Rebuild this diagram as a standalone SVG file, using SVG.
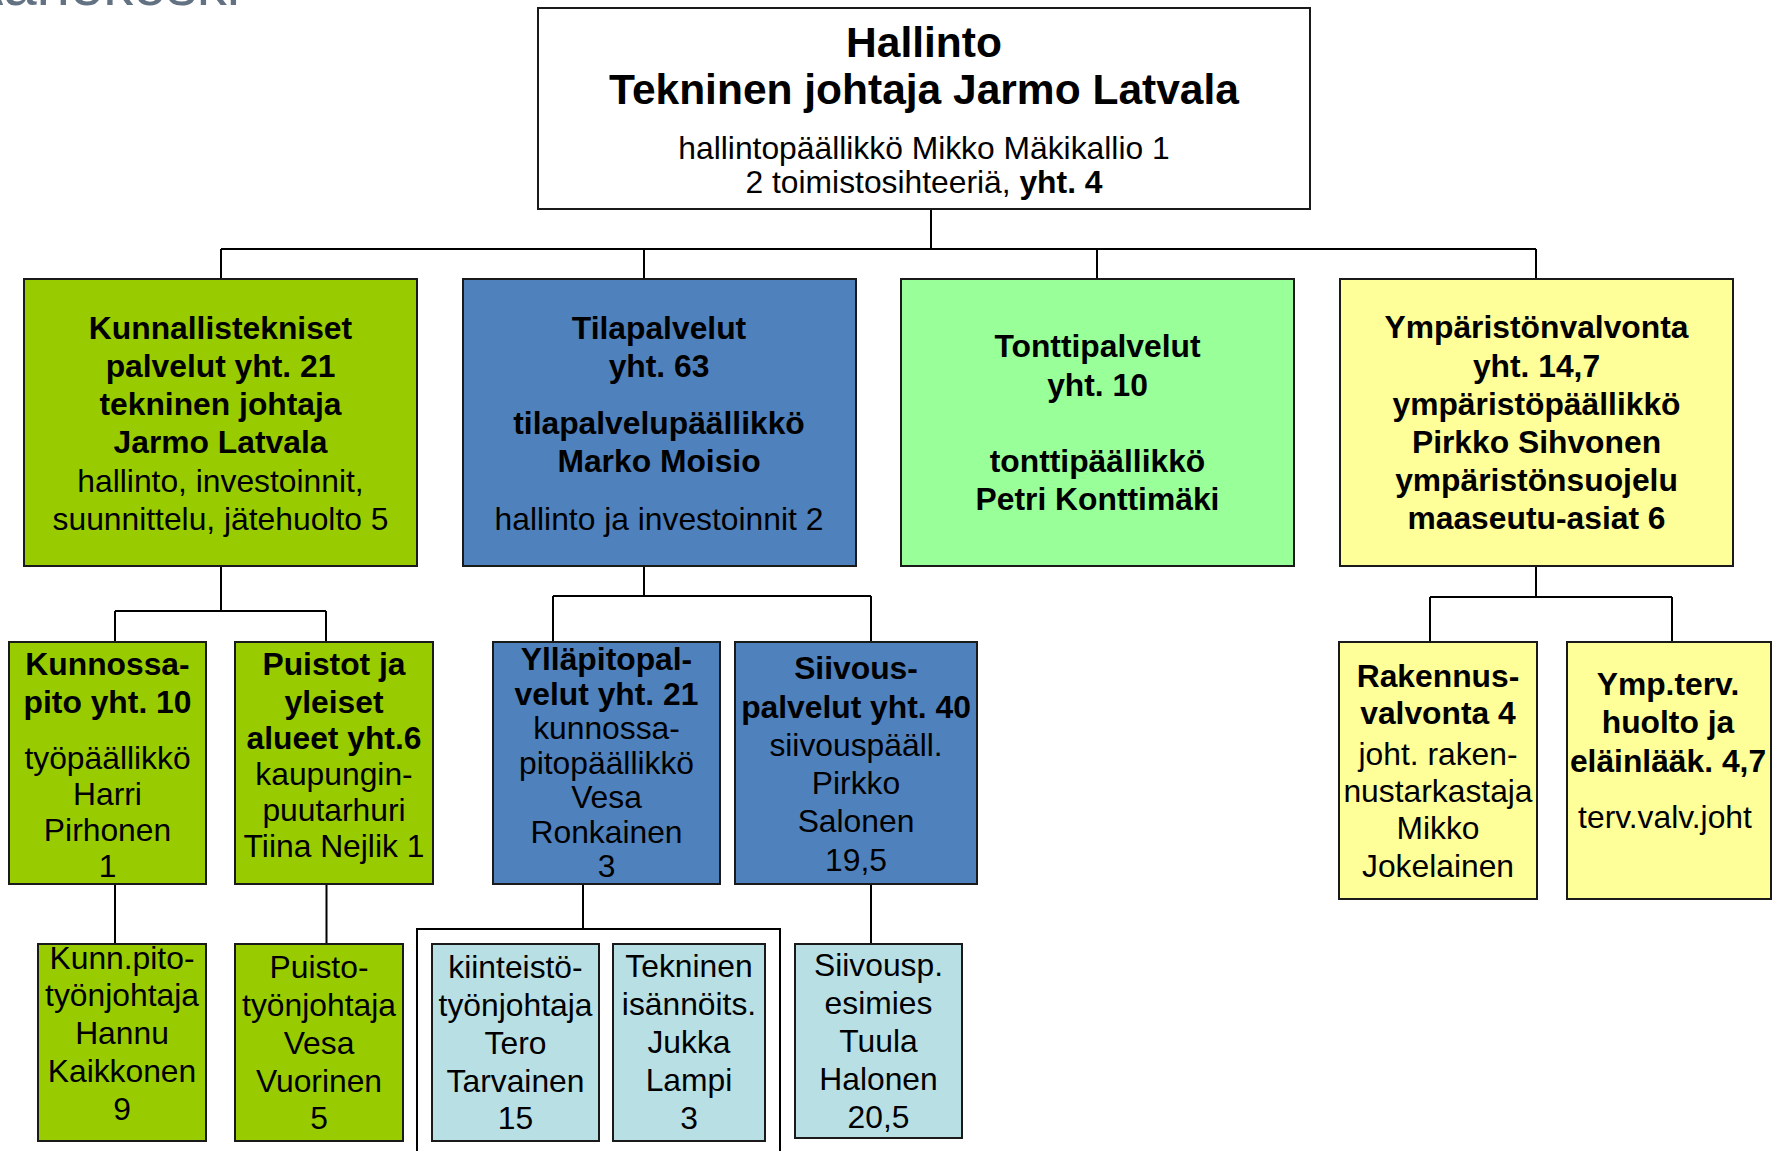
<svg xmlns="http://www.w3.org/2000/svg" width="1783" height="1151" viewBox="0 0 1783 1151">
<style>
text{font-family:"Liberation Sans",Arial,sans-serif;font-size:31.8px;fill:#000;text-anchor:middle}
.b{font-weight:bold}
.t{font-size:42.5px;font-weight:bold}
.box{stroke:#1a1a1a;stroke-width:2}
.w{fill:#fff}
.g{fill:#99CC00}
.bl{fill:#4F81BD}
.lg{fill:#99FF99}
.y{fill:#FFFF99}
.c{fill:#B8DFE4}
.conn{fill:none;stroke:#000;stroke-width:2}
.logo{font-size:60px;fill:#627282;text-anchor:end}
</style>
<rect width="1783" height="1151" fill="#fff"/>
<text class="logo" x="240" y="5">Äänekoski</text>

<g id="connectors" class="conn">
<path d="M931 209V249M221 249H1536M221 249V279M644 249V279M1097 249V279M1536 249V279"/>
<path d="M221 566V611M115 611H326M115 611V642M326 611V642"/>
<path d="M644 566V596M553 596H871M553 596V642M871 596V642"/>
<path d="M1536 566V597M1430 597H1672M1430 597V642M1672 597V642"/>
<path d="M115 884V944M326.5 884V944M583 884V929M871 884V944"/>
<path d="M417 1160V929H780V1160"/>
</g>

<g id="hallinto">
<rect class="box w" x="538" y="8" width="772" height="201"/>
<text class="t" x="924" y="57">Hallinto</text>
<text class="t" x="924" y="104">Tekninen johtaja Jarmo Latvala</text>
<text x="924" y="159">hallintopäällikkö Mikko Mäkikallio 1</text>
<text x="924" y="193">2 toimistosihteeriä, <tspan class="b">yht. 4</tspan></text>
</g>

<g id="kunnallistekniset">
<rect class="box g" x="24" y="279" width="393" height="287"/>
<text class="b" x="220.5" y="339">Kunnallistekniset</text>
<text class="b" x="220.5" y="377">palvelut yht. 21</text>
<text class="b" x="220.5" y="415">tekninen johtaja</text>
<text class="b" x="220.5" y="453">Jarmo Latvala</text>
<text x="220.5" y="492">hallinto, investoinnit,</text>
<text x="220.5" y="530">suunnittelu, jätehuolto 5</text>
</g>

<g id="tilapalvelut">
<rect class="box bl" x="463" y="279" width="393" height="287"/>
<text class="b" x="659" y="339">Tilapalvelut</text>
<text class="b" x="659" y="377">yht. 63</text>
<text class="b" x="659" y="434">tilapalvelupäällikkö</text>
<text class="b" x="659" y="472">Marko Moisio</text>
<text x="659" y="530">hallinto ja investoinnit 2</text>
</g>

<g id="tonttipalvelut">
<rect class="box lg" x="901" y="279" width="393" height="287"/>
<text class="b" x="1097.5" y="357">Tonttipalvelut</text>
<text class="b" x="1097.5" y="396">yht. 10</text>
<text class="b" x="1097.5" y="472">tonttipäällikkö</text>
<text class="b" x="1097.5" y="510">Petri Konttimäki</text>
</g>

<g id="ymparistonvalvonta">
<rect class="box y" x="1340" y="279" width="393" height="287"/>
<text class="b" x="1536.5" y="338">Ympäristönvalvonta</text>
<text class="b" x="1536.5" y="377">yht. 14,7</text>
<text class="b" x="1536.5" y="415">ympäristöpäällikkö</text>
<text class="b" x="1536.5" y="453">Pirkko Sihvonen</text>
<text class="b" x="1536.5" y="491">ympäristönsuojelu</text>
<text class="b" x="1536.5" y="529">maaseutu-asiat 6</text>
</g>

<g id="kunnossapito">
<rect class="box g" x="9" y="642" width="197" height="242"/>
<text class="b" x="107.5" y="675">Kunnossa-</text>
<text class="b" x="107.5" y="713">pito yht. 10</text>
<text x="107.5" y="769">työpäällikkö</text>
<text x="107.5" y="805">Harri</text>
<text x="107.5" y="841">Pirhonen</text>
<text x="107.5" y="877">1</text>
</g>

<g id="puistot">
<rect class="box g" x="235" y="642" width="198" height="242"/>
<text class="b" x="334" y="675">Puistot ja</text>
<text class="b" x="334" y="713">yleiset</text>
<text class="b" x="334" y="749">alueet yht.6</text>
<text x="334" y="785">kaupungin-</text>
<text x="334" y="821">puutarhuri</text>
<text x="334" y="857">Tiina Nejlik 1</text>
</g>

<g id="yllapito">
<rect class="box bl" x="493" y="642" width="227" height="242"/>
<text class="b" x="606.5" y="670">Ylläpitopal-</text>
<text class="b" x="606.5" y="705">velut yht. 21</text>
<text x="606.5" y="739">kunnossa-</text>
<text x="606.5" y="774">pitopäällikkö</text>
<text x="606.5" y="808">Vesa</text>
<text x="606.5" y="843">Ronkainen</text>
<text x="606.5" y="877">3</text>
</g>

<g id="siivous">
<rect class="box bl" x="735" y="642" width="242" height="242"/>
<text class="b" x="856" y="679">Siivous-</text>
<text class="b" x="856" y="718">palvelut yht. 40</text>
<text x="856" y="756">siivouspääll.</text>
<text x="856" y="794">Pirkko</text>
<text x="856" y="832">Salonen</text>
<text x="856" y="871">19,5</text>
</g>

<g id="rakennusvalvonta">
<rect class="box y" x="1339" y="642" width="198" height="257"/>
<text class="b" x="1438" y="687">Rakennus-</text>
<text class="b" x="1438" y="724">valvonta 4</text>
<text x="1438" y="765">joht. raken-</text>
<text x="1438" y="802">nustarkastaja</text>
<text x="1438" y="839">Mikko</text>
<text x="1438" y="877">Jokelainen</text>
</g>

<g id="ymptervhuolto">
<rect class="box y" x="1567" y="642" width="204" height="257"/>
<text class="b" x="1668" y="695">Ymp.terv.</text>
<text class="b" x="1668" y="733">huolto ja</text>
<text class="b" x="1668" y="772">eläinlääk. 4,7</text>
<text x="1665" y="828">terv.valv.joht</text>
</g>

<g id="kunnpito-tj">
<rect class="box g" x="38" y="944" width="168" height="197"/>
<text x="122" y="969">Kunn.pito-</text>
<text x="122" y="1006">työnjohtaja</text>
<text x="122" y="1044">Hannu</text>
<text x="122" y="1082">Kaikkonen</text>
<text x="122" y="1120">9</text>
</g>

<g id="puisto-tj">
<rect class="box g" x="235" y="944" width="168" height="197"/>
<text x="319" y="978">Puisto-</text>
<text x="319" y="1016">työnjohtaja</text>
<text x="319" y="1054">Vesa</text>
<text x="319" y="1092">Vuorinen</text>
<text x="319" y="1129">5</text>
</g>

<g id="kiinteisto-tj">
<rect class="box c" x="432" y="944" width="167" height="197"/>
<text x="515.5" y="978">kiinteistö-</text>
<text x="515.5" y="1016">työnjohtaja</text>
<text x="515.5" y="1054">Tero</text>
<text x="515.5" y="1092">Tarvainen</text>
<text x="515.5" y="1129">15</text>
</g>

<g id="tekninen-isannoitsija">
<rect class="box c" x="613" y="944" width="152" height="197"/>
<text x="689" y="977">Tekninen</text>
<text x="689" y="1015">isännöits.</text>
<text x="689" y="1053">Jukka</text>
<text x="689" y="1091">Lampi</text>
<text x="689" y="1129">3</text>
</g>

<g id="siivous-esimies">
<rect class="box c" x="795" y="944" width="167" height="194"/>
<text x="878.5" y="976">Siivousp.</text>
<text x="878.5" y="1014">esimies</text>
<text x="878.5" y="1052">Tuula</text>
<text x="878.5" y="1090">Halonen</text>
<text x="878.5" y="1128">20,5</text>
</g>
</svg>
